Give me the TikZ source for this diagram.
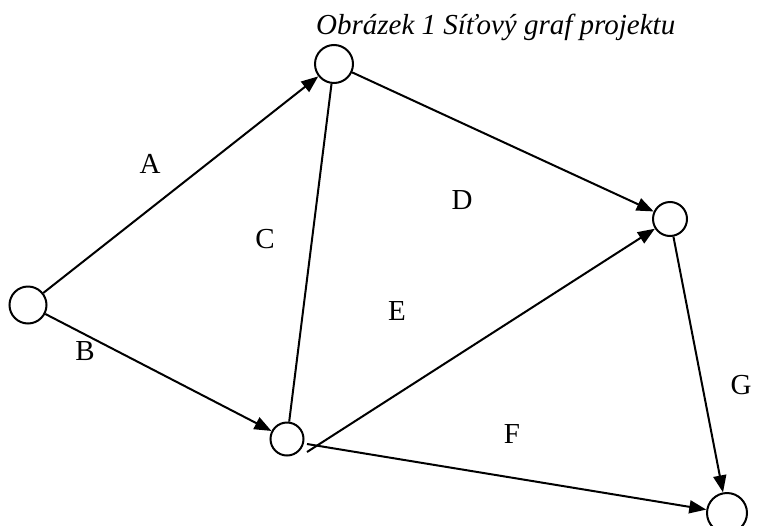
\documentclass[tikz,border=0pt]{standalone}
\usepackage{fontspec}
\setmainfont{Liberation Serif}
\usetikzlibrary{arrows.meta}
\begin{document}
\begin{tikzpicture}[x=1pt,y=-1pt,
  vert/.style={draw,circle,line width=2pt,inner sep=0pt},
  arr/.style={line width=2pt,-{Triangle[length=17pt,width=13pt]}},
  plain/.style={line width=2pt},
  lbl/.style={font=\fontsize{29}{33}\selectfont,inner sep=0pt}]
\useasboundingbox (0,0) rectangle (757,525);
\node[vert,minimum width=37pt] (n1) at (28,305) {};
\node[vert,minimum width=38pt] (n2) at (334,64) {};
\node[vert,minimum width=34pt] (n3) at (670,219) {};
\node[vert,minimum width=33pt] (n4) at (287,439) {};
\node[vert,minimum width=40pt] (n5) at (727,513) {};
\coordinate (eS) at (307,452);
\coordinate (fS) at (307,444);
\draw[arr] (n1) -- (n2);
\draw[arr] (n1) -- (n4);
\draw[plain] (n4) -- (n2);
\draw[arr] (n2) -- (n3);
\draw[arr] (eS) -- (n3);
\draw[arr] (fS) -- (n5);
\draw[arr] (n3) -- (n5);
\node[lbl] (lA) at (150,164) {A};
\node[lbl] (lB) at (85,351) {B};
\node[lbl] (lC) at (265,239) {C};
\node[lbl] (lD) at (462,200) {D};
\node[lbl] (lE) at (397,311) {E};
\node[lbl] (lF) at (512,434) {F};
\node[lbl] (lG) at (741,385) {G};
\node[font=\fontsize{29}{33}\selectfont\itshape,inner sep=0pt,anchor=base west] (title) at (316,34) {Obrázek 1 Síťový graf projektu};
\end{tikzpicture}
\end{document}
